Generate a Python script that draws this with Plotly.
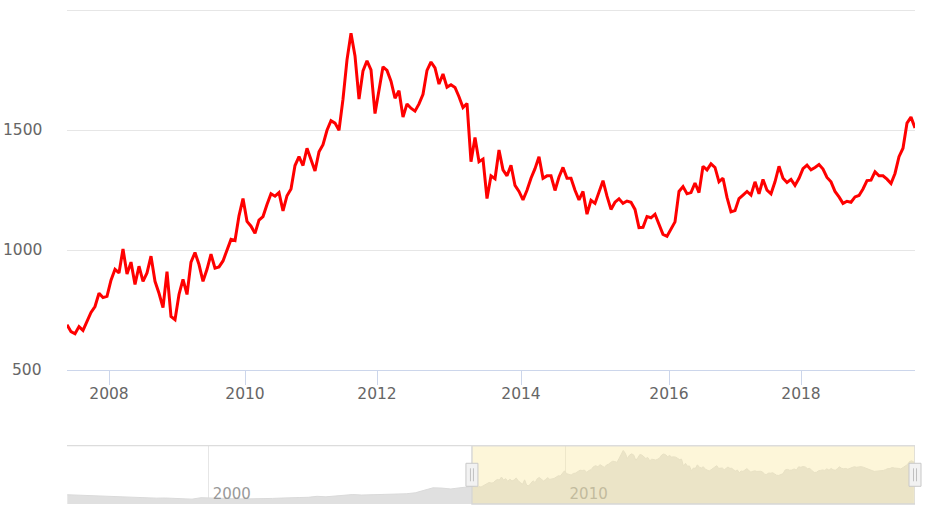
import pandas as pd
import plotly.graph_objects as go

# Gold price (USD/oz), one value every few pixels, grouped by year
p2007 = [689, 660, 651, 681, 665, 705, 740, 765, 820, 802, 807]
p2008 = [875, 920, 905, 1005, 900, 950, 857, 933, 870, 905, 975, 870, 820, 760, 910, 723, 710]
p2009 = [815, 878, 815, 950, 990, 940, 870, 920, 983, 925, 930, 955, 1000, 1045, 1040, 1143, 1215]
p2010 = [1120, 1100, 1070, 1125, 1140, 1190, 1235, 1225, 1240, 1164, 1227, 1255, 1353, 1390, 1353, 1425]
p2011 = [1380, 1330, 1410, 1440, 1500, 1540, 1530, 1500, 1630, 1794, 1905, 1810, 1630, 1748, 1790, 1752, 1570]
p2012 = [1660, 1765, 1750, 1705, 1634, 1665, 1555, 1610, 1592, 1580, 1610, 1650, 1750, 1785, 1760, 1693, 1735, 1680]
p2013 = [1690, 1679, 1640, 1595, 1612, 1369, 1470, 1369, 1380, 1215, 1310, 1298, 1418, 1335, 1310, 1354, 1270, 1245]
p2014 = [1210, 1250, 1300, 1340, 1390, 1300, 1310, 1310, 1249, 1305, 1345, 1300, 1300, 1250, 1210, 1245, 1150, 1208, 1195]
p2015 = [1242, 1290, 1225, 1170, 1200, 1214, 1195, 1205, 1200, 1170, 1094, 1095, 1140, 1135, 1150, 1110, 1066, 1058]
p2016 = [1090, 1118, 1245, 1265, 1235, 1240, 1280, 1240, 1350, 1335, 1360, 1345, 1285, 1300, 1220, 1160]
p2017 = [1165, 1215, 1230, 1245, 1230, 1285, 1235, 1295, 1250, 1235, 1285, 1350, 1300, 1282, 1295, 1270, 1300]
p2018 = [1340, 1355, 1335, 1345, 1357, 1338, 1303, 1285, 1245, 1222, 1195, 1204, 1200, 1222, 1228, 1255]
p2019 = [1290, 1292, 1327, 1310, 1310, 1296, 1278, 1320, 1390, 1425, 1530, 1555, 1510]

first_date = pd.Timestamp('2007-05-19')
last_date = pd.Timestamp('2019-10-18')

# older history shown only in the navigator (quarterly: Jan, Apr, Jul, Oct)
n1996 = [405, 392, 385, 378]
n1997 = [352, 342, 324, 310]
n1998 = [296, 298, 290, 294]
n1999 = [288, 278, 256, 305]
n2000 = [290, 280, 277, 268]
n2001 = [264, 262, 270, 280]
n2002 = [292, 312, 310, 318]
n2003 = [352, 335, 360, 385]
n2004 = [412, 395, 400, 425]
n2005 = [425, 428, 438, 470]
n2006 = [552, 640, 630, 600]
n2007 = [640, 680]

y_ticks = [500, 1000, 1500, 2000]
y_labels = ['500', '1000', '1500', '']

years = list(range(2007, 2020))
year_prices = [p2007, p2008, p2009, p2010, p2011, p2012, p2013,
               p2014, p2015, p2016, p2017, p2018, p2019]

# main series: ordinal x (point index), like the stock chart
prices = []
main_dates = []
tickvals, ticktext = [], []
for yr, vals in zip(years, year_prices):
    if yr % 2 == 0:
        tickvals.append(len(prices) - 0.5)
        ticktext.append(str(yr))
    t0 = first_date if yr == 2007 else pd.Timestamp(yr, 1, 1)
    t1 = last_date if yr == 2019 else pd.Timestamp(yr + 1, 1, 1)
    step = (t1 - t0) / len(vals)
    main_dates += [t0 + step * (i + 0.5) for i in range(len(vals))]
    prices += vals
idx = list(range(len(prices)))

early = [n1996, n1997, n1998, n1999, n2000, n2001, n2002, n2003, n2004, n2005, n2006, n2007]
nav_dates, nav_prices = [], []
for yr, vals in zip(range(1996, 2008), early):
    for q, v in enumerate(vals):
        nav_dates.append(pd.Timestamp(yr, 1 + 3 * q, 15))
        nav_prices.append(v)
nav_dates += main_dates
nav_prices += prices

nav_start = pd.Timestamp('1996-01-12')
nav_end = last_date
nav_lo = min(nav_prices) - 0.1 * (max(nav_prices) - min(nav_prices))
nav_hi = max(nav_prices) + 0.1 * (max(nav_prices) - min(nav_prices))

fig = go.Figure()
fig.add_trace(go.Scatter(
    x=idx, y=prices, mode='lines',
    line=dict(color='#ff0000', width=3),
    customdata=[d.strftime('%Y-%m-%d') for d in main_dates],
    hovertemplate='%{customdata}: %{y}<extra></extra>',
    xaxis='x', yaxis='y'
))
fig.add_trace(go.Scatter(
    x=nav_dates, y=nav_prices, mode='lines', fill='tozeroy',
    fillcolor='#e0e0e0', line=dict(color='#dadada', width=1),
    hoverinfo='skip', xaxis='x2', yaxis='y2'
))

font_main = dict(family='DejaVu Sans', size=15.5, color='#666666')
nav_dom = [0, 0.118]
nav_mid = (nav_dom[0] + nav_dom[1]) / 2
sel_left = (first_date - nav_start) / (nav_end - nav_start)

shapes = [
    # selected range mask
    dict(type='rect', xref='x2', yref='y2 domain', x0=first_date, x1=nav_end,
         y0=0, y1=1, fillcolor='rgba(250,233,164,0.42)', line=dict(width=0), layer='above'),
    dict(type='rect', xref='x2', yref='y2 domain', x0=first_date, x1=nav_end,
         y0=0, y1=1, line=dict(color='#d6d6d6', width=1.4), layer='above'),
    # navigator top outline
    dict(type='line', xref='x2 domain', yref='y2 domain', x0=0, x1=1, y0=1, y1=1,
         line=dict(color='#dcdcdc', width=1.4), layer='above'),
]
for hx in [sel_left, 1.0]:
    shapes.append(dict(type='rect', xref='paper', yref='paper',
                       xsizemode='pixel', xanchor=hx, x0=-6, x1=6,
                       ysizemode='pixel', yanchor=nav_mid, y0=-11.5, y1=11.5,
                       fillcolor='#f2f2f2', line=dict(color='#c8c8c8', width=1), layer='above'))
    for off in [-1.5, 1.5]:
        shapes.append(dict(type='line', xref='paper', yref='paper',
                           xsizemode='pixel', xanchor=hx, x0=off, x1=off,
                           ysizemode='pixel', yanchor=nav_mid, y0=-6.5, y1=6.5,
                           line=dict(color='#c0c0c0', width=1), layer='above'))

# y-axis labels sit well left of the plot, as in the stock chart
annotations = [
    dict(x=0, xref='paper', y=v, yref='y', text=t, showarrow=False,
         xanchor='right', yanchor='middle', xshift=-23, font=font_main)
    for v, t in zip(y_ticks, y_labels) if t
]

fig.update_layout(
    width=937, height=530,
    margin=dict(l=67, r=22, t=9, b=26, autoexpand=False),
    paper_bgcolor='white', plot_bgcolor='white',
    showlegend=False,
    hovermode='closest',
    xaxis=dict(
        domain=[0, 1], anchor='y', range=[0, len(prices) - 1],
        tickvals=tickvals, ticktext=ticktext, tickfont=font_main,
        ticks='outside', ticklen=14, tickwidth=1.4, tickcolor='#ccd6eb',
        showline=True, linecolor='#ccd6eb', linewidth=1.4,
        showgrid=False, zeroline=False, automargin=False,
        ticklabelstandoff=-5
    ),
    yaxis=dict(
        domain=[0.2707, 1], anchor='x', range=[500, 2006],
        tickvals=y_ticks, showticklabels=False,
        gridcolor='#e6e6e6', gridwidth=1.4, zeroline=False, showline=False,
        ticks=''
    ),
    xaxis2=dict(
        domain=[0, 1], anchor='y2', type='date', range=[nav_start, nav_end],
        tickvals=['2000-01-01', '2010-01-01'], ticktext=['2000', '2010'],
        ticklabelposition='inside right', ticklabelstandoff=-4, ticklabelshift=4,
        tickfont=dict(family='DejaVu Sans', size=15, color='#999999'),
        showgrid=True, gridcolor='#e6e6e6', gridwidth=1.4,
        ticks='', showline=False, zeroline=False, automargin=False
    ),
    yaxis2=dict(
        domain=nav_dom, anchor='x2', range=[nav_lo, nav_hi],
        showgrid=False, showticklabels=False, zeroline=False, ticks=''
    ),
    shapes=shapes,
    annotations=annotations
)

fig.write_html('out.html', config={'displayModeBar': False},
               post_script="document.body.style.margin='0';")
